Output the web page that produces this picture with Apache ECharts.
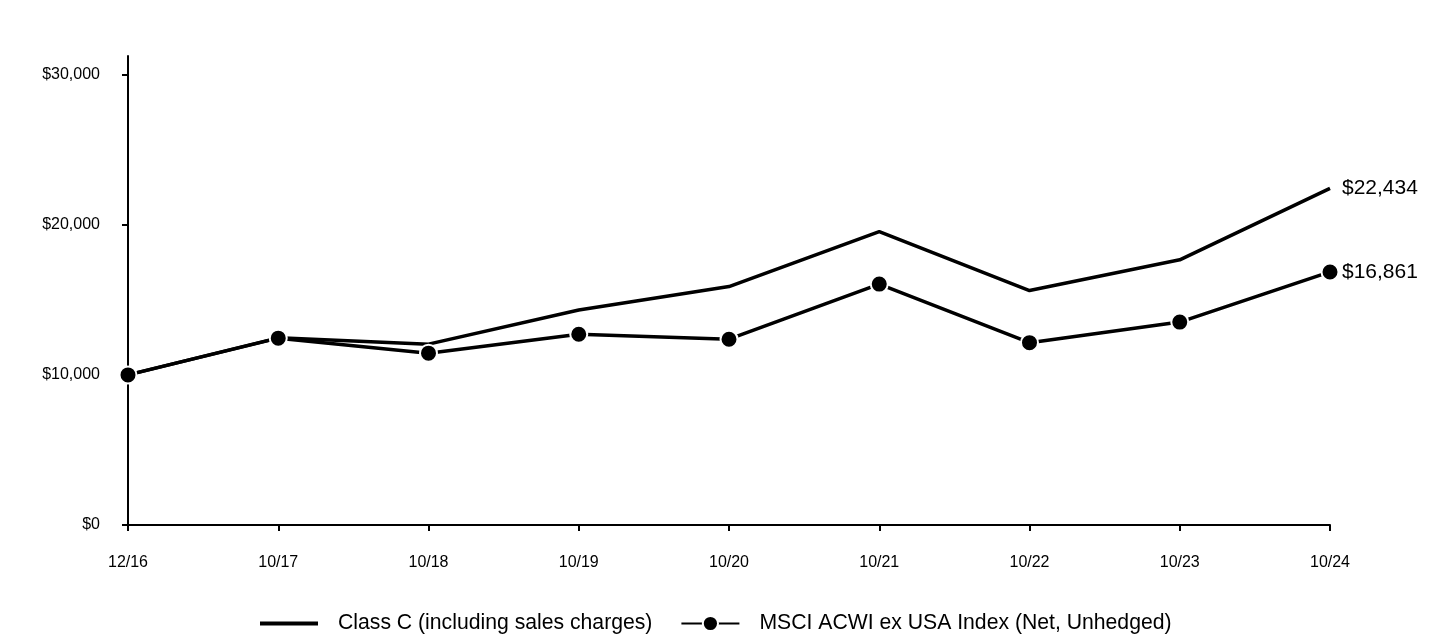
<!DOCTYPE html>
<html>
<head>
<meta charset="utf-8">
<script src="https://cdn.jsdelivr.net/npm/echarts@6/dist/echarts.min.js"></script>
<style>html,body{margin:0;padding:0;background:#fff}#c{width:1440px;height:636px}</style>
</head>
<body>
<div id="c"></div>
<script>
const categories = ['12/16','10/17','10/18','10/19','10/20','10/21','10/22','10/23','10/24'];
const classC = [10000, 12470, 12050, 14330, 15890, 19550, 15620, 17670, 22434];
const msci = [10000, 12450, 11450, 12710, 12380, 16050, 12150, 13520, 16861];
const yTicks = [0, 10000, 20000, 30000];
const seriesNames = ['Class C (including sales charges)', 'MSCI ACWI ex USA Index (Net, Unhedged)'];

const fmt = v => '$' + Number(v).toLocaleString('en-US');
const font = 'Arial, "Liberation Sans", sans-serif';

const chart = echarts.init(document.getElementById('c'), null, {renderer: 'canvas'});
chart.setOption({
  animation: false,
  backgroundColor: '#fff',
  grid: {left: 128, right: 110, top: 56, bottom: 111, containLabel: false},
  legend: {
    bottom: -3,
    left: 255,
    itemWidth: 58,
    itemHeight: 19,
    itemGap: 28,
    textStyle: {fontFamily: font, fontSize: 21.2, color: '#000', padding: [0, 0, 0, 15]},
    data: [
      {name: seriesNames[0], icon: 'path://M0,0 L58,0 L58,4 L0,4 Z'},
      {name: seriesNames[1]}
    ]
  },
  xAxis: {
    type: 'category',
    data: categories,
    boundaryGap: false,
    axisLine: {lineStyle: {color: '#000', width: 2}},
    axisTick: {show: true, length: 6, lineStyle: {color: '#000', width: 2}},
    axisLabel: {color: '#000', fontFamily: font, fontSize: 16, margin: 30}
  },
  yAxis: {
    type: 'value',
    min: 0,
    max: 31250,
    splitLine: {show: false},
    axisLine: {show: true, lineStyle: {color: '#000', width: 2}},
    axisTick: {show: true, length: 6, lineStyle: {color: '#000', width: 2}, customValues: yTicks},
    axisLabel: {color: '#000', fontFamily: font, fontSize: 16, margin: 28, customValues: yTicks, formatter: fmt}
  },
  series: [
    {
      name: seriesNames[0],
      type: 'line',
      data: classC,
      symbol: 'none',
      lineStyle: {color: '#000', width: 3.5},
      itemStyle: {color: '#000'},
      endLabel: {show: true, formatter: p => fmt(p.value), color: '#000', fontFamily: font, fontSize: 21, distance: 12},
      z: 2
    },
    {
      name: seriesNames[1],
      type: 'line',
      data: msci,
      symbol: 'circle',
      symbolSize: 17,
      showAllSymbol: true,
      lineStyle: {color: '#000', width: 3.5},
      itemStyle: {color: '#000', borderColor: '#fff', borderWidth: 2},
      endLabel: {show: true, formatter: p => fmt(p.value), color: '#000', fontFamily: font, fontSize: 21, distance: 12},
      z: 3
    }
  ]
});
</script>
</body>
</html>
